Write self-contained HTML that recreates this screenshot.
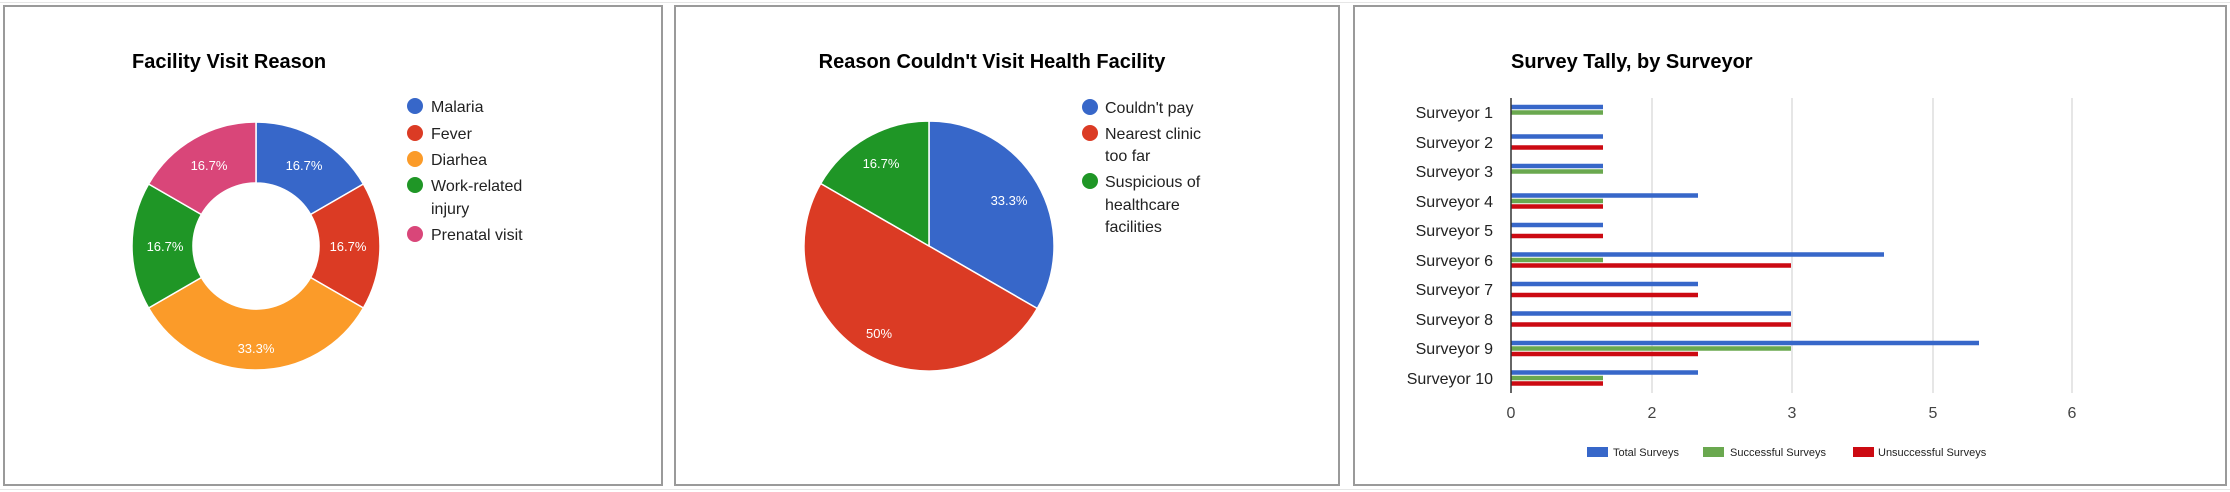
<!DOCTYPE html>
<html><head><meta charset="utf-8"><style>
html,body{margin:0;padding:0;background:#fff;}
svg{display:block;font-family:"Liberation Sans",sans-serif;}
</style></head><body>
<svg width="2230" height="492" viewBox="0 0 2230 492" xmlns="http://www.w3.org/2000/svg">
<rect width="2230" height="492" fill="#fff"/>
<g stroke="#e6e6e6" stroke-width="1">
<line x1="0" y1="2.5" x2="2230" y2="2.5"/>
<line x1="0" y1="489.5" x2="2230" y2="489.5"/>
</g>
<!-- panels -->
<g fill="#fff" stroke="#9a9a9a" stroke-width="2">
<rect x="4" y="6" width="658" height="479"/>
<rect x="675" y="6" width="664" height="479"/>
<rect x="1354" y="6" width="872" height="479"/>
</g>

<!-- Panel 1: donut -->
<text x="132" y="68" font-size="20" font-weight="bold" fill="#000">Facility Visit Reason</text>
<g stroke="#fff" stroke-width="1.5">
<path d="M256,122 A124,124 0 0 1 363.4,184 L310.6,214.5 A63,63 0 0 0 256,183 Z" fill="#3767c9"/>
<path d="M363.4,184 A124,124 0 0 1 363.4,308 L310.6,277.5 A63,63 0 0 0 310.6,214.5 Z" fill="#db3b24"/>
<path d="M363.4,308 A124,124 0 0 1 148.6,308 L201.4,277.5 A63,63 0 0 0 310.6,277.5 Z" fill="#fb9b29"/>
<path d="M148.6,308 A124,124 0 0 1 148.6,184 L201.4,214.5 A63,63 0 0 0 201.4,277.5 Z" fill="#1f9626"/>
<path d="M148.6,184 A124,124 0 0 1 256,122 L256,183 A63,63 0 0 0 201.4,214.5 Z" fill="#d94679"/>
</g>
<g fill="#fff" font-size="13" text-anchor="middle">
<text x="304" y="170">16.7%</text>
<text x="348" y="251">16.7%</text>
<text x="256" y="353">33.3%</text>
<text x="165" y="251">16.7%</text>
<text x="209" y="170">16.7%</text>
</g>
<g font-size="16" fill="#222">
<circle cx="415" cy="106" r="8" fill="#3767c9"/><text x="431" y="112">Malaria</text>
<circle cx="415" cy="133" r="8" fill="#db3b24"/><text x="431" y="139">Fever</text>
<circle cx="415" cy="159" r="8" fill="#fb9b29"/><text x="431" y="165">Diarhea</text>
<circle cx="415" cy="185" r="8" fill="#1f9626"/><text x="431" y="191">Work-related</text><text x="431" y="214">injury</text>
<circle cx="415" cy="234" r="8" fill="#d94679"/><text x="431" y="240">Prenatal visit</text>
</g>

<!-- Panel 2: pie -->
<text x="992" y="68" font-size="20" font-weight="bold" fill="#000" text-anchor="middle">Reason Couldn't Visit Health Facility</text>
<g stroke="#fff" stroke-width="1.5">
<path d="M929,246 L929,121 A125,125 0 0 1 1037.3,308.5 Z" fill="#3767c9"/>
<path d="M929,246 L1037.3,308.5 A125,125 0 0 1 820.7,183.5 Z" fill="#db3b24"/>
<path d="M929,246 L820.7,183.5 A125,125 0 0 1 929,121 Z" fill="#1f9626"/>
</g>
<g fill="#fff" font-size="13" text-anchor="middle">
<text x="1009" y="205">33.3%</text>
<text x="879" y="338">50%</text>
<text x="881" y="168">16.7%</text>
</g>
<g font-size="16" fill="#222">
<circle cx="1090" cy="107" r="8" fill="#3767c9"/><text x="1105" y="113">Couldn't pay</text>
<circle cx="1090" cy="133" r="8" fill="#db3b24"/><text x="1105" y="139">Nearest clinic</text><text x="1105" y="161">too far</text>
<circle cx="1090" cy="181" r="8" fill="#1f9626"/><text x="1105" y="187">Suspicious of</text><text x="1105" y="210">healthcare</text><text x="1105" y="232">facilities</text>
</g>

<!-- Panel 3: bar chart -->
<text x="1511" y="68" font-size="20" font-weight="bold" fill="#000">Survey Tally, by Surveyor</text>
<g stroke="#cccccc" stroke-width="1">
<line x1="1652" y1="98" x2="1652" y2="393"/>
<line x1="1792" y1="98" x2="1792" y2="393"/>
<line x1="1933" y1="98" x2="1933" y2="393"/>
<line x1="2072" y1="98" x2="2072" y2="393"/>
</g>
<g id="bars">
<!-- rows: center = 98 + 29.5*(i-0.5) -->
<rect x="1511" y="104.75" width="92" height="4.5" fill="#3767c9"/><rect x="1511" y="110.25" width="92" height="4.5" fill="#6aa84f"/>
<rect x="1511" y="134.25" width="92" height="4.5" fill="#3767c9"/><rect x="1511" y="145.25" width="92" height="4.5" fill="#cc0a12"/>
<rect x="1511" y="163.75" width="92" height="4.5" fill="#3767c9"/><rect x="1511" y="169.25" width="92" height="4.5" fill="#6aa84f"/>
<rect x="1511" y="193.25" width="187" height="4.5" fill="#3767c9"/><rect x="1511" y="198.75" width="92" height="4.5" fill="#6aa84f"/><rect x="1511" y="204.25" width="92" height="4.5" fill="#cc0a12"/>
<rect x="1511" y="222.75" width="92" height="4.5" fill="#3767c9"/><rect x="1511" y="233.75" width="92" height="4.5" fill="#cc0a12"/>
<rect x="1511" y="252.25" width="373" height="4.5" fill="#3767c9"/><rect x="1511" y="257.75" width="92" height="4.5" fill="#6aa84f"/><rect x="1511" y="263.25" width="280" height="4.5" fill="#cc0a12"/>
<rect x="1511" y="281.75" width="187" height="4.5" fill="#3767c9"/><rect x="1511" y="292.75" width="187" height="4.5" fill="#cc0a12"/>
<rect x="1511" y="311.25" width="280" height="4.5" fill="#3767c9"/><rect x="1511" y="322.25" width="280" height="4.5" fill="#cc0a12"/>
<rect x="1511" y="340.75" width="468" height="4.5" fill="#3767c9"/><rect x="1511" y="346.25" width="280" height="4.5" fill="#6aa84f"/><rect x="1511" y="351.75" width="187" height="4.5" fill="#cc0a12"/>
<rect x="1511" y="370.25" width="187" height="4.5" fill="#3767c9"/><rect x="1511" y="375.75" width="92" height="4.5" fill="#6aa84f"/><rect x="1511" y="381.25" width="92" height="4.5" fill="#cc0a12"/>
</g>
<line x1="1511" y1="98" x2="1511" y2="393" stroke="#333" stroke-width="1.5"/>
<g font-size="16" fill="#222" text-anchor="end">
<text x="1493" y="118">Surveyor 1</text>
<text x="1493" y="148">Surveyor 2</text>
<text x="1493" y="177">Surveyor 3</text>
<text x="1493" y="207">Surveyor 4</text>
<text x="1493" y="236">Surveyor 5</text>
<text x="1493" y="266">Surveyor 6</text>
<text x="1493" y="295">Surveyor 7</text>
<text x="1493" y="325">Surveyor 8</text>
<text x="1493" y="354">Surveyor 9</text>
<text x="1493" y="384">Surveyor 10</text>
</g>
<g font-size="16" fill="#444" text-anchor="middle">
<text x="1511" y="418">0</text>
<text x="1652" y="418">2</text>
<text x="1792" y="418">3</text>
<text x="1933" y="418">5</text>
<text x="2072" y="418">6</text>
</g>
<g font-size="11" fill="#222">
<rect x="1587" y="447" width="21" height="10" fill="#3767c9"/><text x="1613" y="456">Total Surveys</text>
<rect x="1703" y="447" width="21" height="10" fill="#6aa84f"/><text x="1730" y="456">Successful Surveys</text>
<rect x="1853" y="447" width="21" height="10" fill="#cc0a12"/><text x="1878" y="456">Unsuccessful Surveys</text>
</g>
</svg>
</body></html>
